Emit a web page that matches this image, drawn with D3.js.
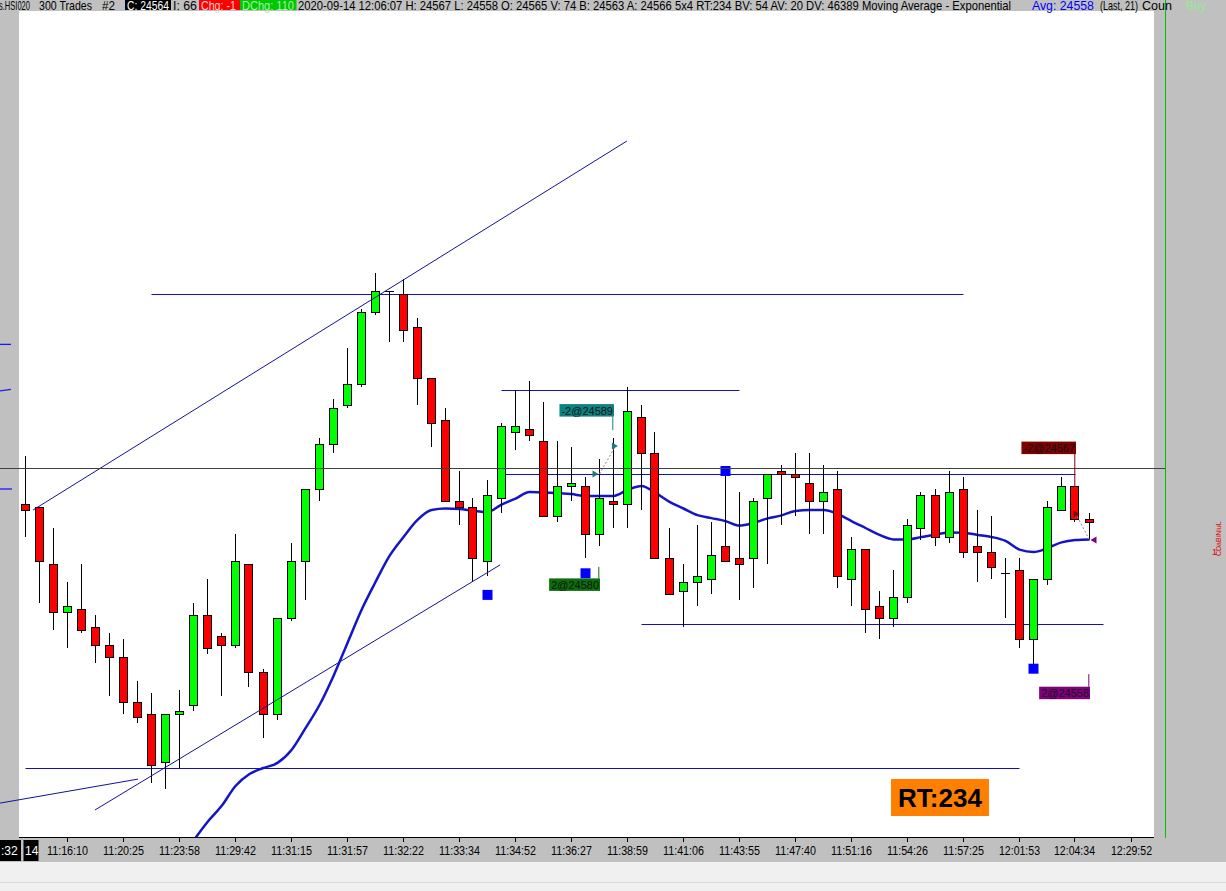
<!DOCTYPE html>
<html><head><meta charset="utf-8">
<script src="https://cdn.jsdelivr.net/npm/d3@7"></script>
<style>html,body{margin:0;padding:0;background:#f0f0f0;overflow:hidden}svg{display:block}</style>
</head><body>
<svg id="c" width="1226" height="891"></svg>
<script>
// ---------- data ----------
const opens  = [24570,24569,24550,24534,24535,24529,24523,24519,24504,24500,24484,24500,24503,24533,24526,24523,24550,24514,24500,24532,24551,24575,24590,24603,24610,24634,24641,24640,24629,24612,24598,24571,24569,24551,24572,24594,24595,24591,24566,24576,24576,24560,24571,24570,24599,24587,24552,24541,24544,24545,24556,24552,24552,24572,24581,24580,24577,24571,24575,24545,24555,24536,24532,24539,24562,24573,24559,24575,24556,24554,24547,24548,24525,24545,24568,24576,24565];
const highs  = [24586,24569,24562,24544,24550,24533,24527,24525,24511,24507,24500,24508,24537,24545,24527,24560,24550,24515,24532,24557,24575,24592,24605,24622,24635,24647,24641,24645,24632,24612,24602,24581,24572,24578,24597,24608,24611,24604,24591,24589,24579,24585,24592,24609,24603,24594,24562,24550,24563,24564,24580,24574,24572,24580,24583,24587,24587,24583,24581,24559,24555,24541,24548,24565,24574,24575,24581,24579,24568,24566,24552,24552,24545,24571,24579,24576,24567];
const lows   = [24559,24537,24528,24522,24527,24517,24506,24500,24497,24477,24475,24482,24501,24520,24506,24522,24509,24492,24498,24531,24538,24571,24587,24602,24609,24633,24624,24624,24603,24589,24571,24563,24544,24546,24567,24588,24591,24566,24564,24571,24552,24556,24562,24562,24568,24552,24540,24529,24536,24540,24551,24538,24542,24550,24563,24566,24560,24560,24542,24536,24527,24525,24529,24537,24558,24556,24557,24552,24544,24545,24532,24522,24516,24543,24568,24564,24558];
const closes = [24568,24551,24534,24536,24528,24523,24519,24504,24499,24483,24500,24501,24533,24522,24523,24551,24514,24500,24532,24551,24575,24590,24602,24610,24634,24641,24641,24628,24612,24597,24571,24569,24552,24573,24596,24596,24593,24566,24576,24577,24560,24572,24570,24601,24587,24552,24540,24544,24546,24553,24551,24550,24571,24580,24580,24579,24571,24574,24546,24555,24535,24532,24539,24563,24573,24559,24574,24554,24554,24549,24547,24525,24545,24569,24576,24565,24564];
// EMA(21) (earlier values are below the visible area)
const emaVals = [null,null,null,null,null,null,null,null,null,null,null,null,
 24457.8,24464.0,24469.3,24476.0,24480.0,24482.0,24483.7,24488.0,24495.3,24503.0,24512.7,24523.7,24534.7,24544.0,24552.7,24559.0,24564.7,24568.0,24568.5,24568.3,24567.7,24567.3,24569.8,24571.8,24574.0,24573.8,24573.7,24573.3,24572.7,24572.7,24572.7,24574.7,24576.0,24573.7,24570.7,24568.5,24566.3,24565.3,24564.3,24562.8,24563.7,24565.2,24566.2,24567.7,24568.0,24568.0,24566.7,24564.3,24562.0,24559.7,24558.2,24558.2,24559.0,24559.8,24560.5,24560.4,24559.7,24559.0,24557.7,24554.8,24554.0,24555.3,24557.2,24558.0,24558.2];
const tickIndex  = [3,7,11,15,19,23,27,31,35,39,43,47,51,55,59,63,67,71,75,79];
const tickLabels = ["11:16:10","11:20:25","11:23:58","11:29:42","11:31:15","11:31:57","11:32:22","11:33:34","11:34:52","11:36:27","11:38:59","11:41:06","11:43:55","11:47:40","11:51:16","11:54:26","11:57:25","12:01:53","12:04:34","12:29:52"];
// horizontal drawing lines: price, from index, to index
const hLinePrice = [24640,24608,24580,24530,24482];
const hLineFrom  = [9,34,34,44,0];
const hLineTo    = [67,51,75,77,71];
// trend lines: [index0, price0, index1, price1]
const trendLines = [[0.54,24568,42.96,24691],[4.96,24468,33.9,24549.7],[-1.82,24470.3,8.04,24478.3]];
const lastPriceLine = 24582;
// signal squares
const sigIndex = [33,40,50,72];
const sigPrice = [24539.7,24546.9,24581,24515.1];
// trade labels
const tradeText  = ["-2@24589","2@24580","-2@24567","2@24558"];
const tradeIndex = [42,41,75,76];
const tradeBoxTop= [24603.3,24545.2,24590.8,24509.1];
const tradeColor = ["#0b8383","#0b6e0b","#800000","#800080"];
// executions: [idxFrom, priceFrom, idxTo, priceTo]
const execLinks = [[41,24580,42.1,24589],[75,24567,76,24558]];
const headerParts = [
 {t:"s.HSI020",x0:-1,x1:30},{t:"300 Trades",x0:39,x1:92},{t:"#2",x0:102,x1:115},
 {t:"C: 24564",x0:127,x1:169,bg:"#000",b0:125,b1:171,fill:"#fff"},
 {t:"I: 66",x0:173,x1:197},
 {t:"Chg: -1",x0:201,x1:236,bg:"#ff0000",b0:199,b1:240,fill:"#ffd0d0"},
 {t:"DChg: 110",x0:242,x1:294,bg:"#00c800",b0:240,b1:296.5,fill:"#a8f0a8"},
 {t:"2020-09-14 12:06:07 H: 24567 L: 24558 O: 24565 V: 74 B: 24563 A: 24566 5x4 RT:234 BV: 54 AV: 20 DV: 46389 Moving Average - Exponential",x0:298,x1:1012},
 {t:"Avg: 24558",x0:1032,x1:1094,fill:"#0000ff"},
 {t:"(Last, 21)",x0:1100,x1:1138},
 {t:"Coun",x0:1142,x1:1172},
 {t:"Buy",x0:1186,x1:1206,fill:"#90ee90"}
];

// ---------- drawing ----------
const svg = d3.select("#c");
const x = d3.scaleLinear().domain([0,76]).range([25.5,1089.5]);
const y = d3.scaleLinear().domain([24458,24558]).range([840,540]);
const PL=19, PR=1154, PT=11, PB=837;

svg.append("rect").attr("width",1226).attr("height",891).attr("fill","#f0f0f0");
svg.append("rect").attr("width",1226).attr("height",862).attr("fill","#c0c0c0");
svg.append("line").attr("x1",0).attr("x2",1226).attr("y1",882.5).attr("y2",882.5).attr("stroke","#dcdcdc");
svg.append("rect").attr("x",PL).attr("y",PT).attr("width",PR-PL).attr("height",PB-PT).attr("fill","#fff");

svg.append("defs").append("clipPath").attr("id","plot").append("rect").attr("x",PL).attr("y",PT).attr("width",PR-PL).attr("height",PB-PT);
const g = svg.append("g").attr("clip-path","url(#plot)");

// horizontal drawing lines
hLinePrice.forEach((p,i)=>{
  g.append("line").attr("x1",x(hLineFrom[i])).attr("x2",x(hLineTo[i]))
   .attr("y1",Math.round(y(p))+0.5).attr("y2",Math.round(y(p))+0.5)
   .attr("stroke","#1010c8").attr("stroke-width",1);
});
// trend lines (not clipped: they run into the margin)
trendLines.forEach(t=>{
  svg.append("line").attr("x1",x(t[0])).attr("y1",y(t[1])).attr("x2",x(t[2])).attr("y2",y(t[3]))
   .attr("stroke","#12129a").attr("stroke-width",1);
});
// margin marks
[[24623.2,24623.2,11],[24607.7,24608.2,11],[24575,24575,12]].forEach(m=>{
  svg.append("line").attr("x1",0).attr("x2",m[2]).attr("y1",y(m[0])).attr("y2",y(m[1]))
   .attr("stroke","#1a1aff").attr("stroke-width",1.3);
});
// last price line
svg.append("line").attr("x1",0).attr("x2",1165).attr("y1",Math.round(y(lastPriceLine))+0.5).attr("y2",Math.round(y(lastPriceLine))+0.5)
  .attr("stroke","#404040").attr("stroke-width",1);

// EMA
const emaLine = d3.line().defined(d=>d!=null).x((d,i)=>x(i)).y(d=>y(d)).curve(d3.curveMonotoneX);
g.append("path").attr("d",emaLine(emaVals)).attr("fill","none").attr("stroke","#1515c8").attr("stroke-width",2.5);

// candles
opens.forEach((o,i)=>{
  const c=closes[i], cx=Math.round(x(i))-0.5;
  g.append("line").attr("x1",cx).attr("x2",cx).attr("y1",y(highs[i])).attr("y2",y(lows[i])).attr("stroke","#000").attr("stroke-width",1);
  if(o===c){
    g.append("line").attr("x1",cx-4.5).attr("x2",cx+4.5).attr("y1",Math.round(y(o))+0.5).attr("y2",Math.round(y(o))+0.5).attr("stroke","#000");
  } else {
    const top=Math.round(y(Math.max(o,c))), bot=Math.round(y(Math.min(o,c)));
    g.append("rect").attr("x",cx-4).attr("y",top+0.5).attr("width",8).attr("height",Math.max(1,bot-top))
     .attr("fill",c>o?"#00ff00":"#ff0000").attr("stroke","#000").attr("stroke-width",1);
  }
});

// signal squares
sigIndex.forEach((si,i)=>{
  g.append("rect").attr("x",x(si)-5).attr("y",y(sigPrice[i])-5).attr("width",10).attr("height",10).attr("fill","#0000ff");
});

// execution links
execLinks.forEach((e,k)=>{
  svg.append("line").attr("x1",x(e[0])).attr("y1",y(e[1])).attr("x2",x(e[2])).attr("y2",y(e[3]))
    .attr("stroke","#8a8a8a").attr("stroke-dasharray","2,2");
});
const tri=(px,py,dir,col)=>{
  const s=dir>0?[[px-6,py-3.5],[px,py],[px-6,py+3.5]]:[[px+6,py-3.5],[px,py],[px+6,py+3.5]];
  svg.append("path").attr("d","M"+s.map(p=>p.join(",")).join("L")+"Z").attr("fill",col);
};
tri(x(41)-1,y(24580),1,"#1e7b7b");
tri(x(42.1)+3,y(24589)-1,1,"#1e7b7b");
tri(x(75)+4,y(24567)+1,1,"#800000");
tri(x(76)+1,y(24558),-1,"#800080");

// trade labels
tradeText.forEach((t,i)=>{
  const right = x(tradeIndex[i])+0.5, top=y(tradeBoxTop[i]);
  const tx = svg.append("text").attr("x",right-1).attr("y",top+10.5).attr("text-anchor","end")
    .attr("font-family","Liberation Sans, Arial, sans-serif").attr("font-size",11).attr("fill","#111").text(t);
  const w = tx.node().getComputedTextLength()+3;
  svg.insert("rect","text").attr("x",right-w).attr("y",top).attr("width",w).attr("height",12.5).attr("fill",tradeColor[i]);
  const cx=right-1.2;
  if(i===0) svg.append("line").attr("x1",cx).attr("x2",cx).attr("y1",top+12.5).attr("y2",top+26).attr("stroke",tradeColor[i]);
  if(i===1) svg.append("line").attr("x1",cx).attr("x2",cx).attr("y1",top-11.5).attr("y2",top).attr("stroke",tradeColor[i]);
  if(i===2) svg.append("line").attr("x1",cx).attr("x2",cx).attr("y1",top+12.5).attr("y2",y(highs[75])).attr("stroke",tradeColor[i]);
  if(i===3) svg.append("line").attr("x1",cx).attr("x2",cx).attr("y1",top-12.5).attr("y2",top).attr("stroke",tradeColor[i]);
});

// RT box
svg.append("rect").attr("x",891).attr("y",779).attr("width",98).attr("height",37).attr("fill","#ff8000");
svg.append("text").attr("x",940).attr("y",807).attr("text-anchor","middle").attr("font-family","Liberation Sans, Arial, sans-serif")
  .attr("font-weight","bold").attr("font-size",26).attr("fill","#000").text("RT:234");

// right border green line
svg.append("line").attr("x1",1165.5).attr("x2",1165.5).attr("y1",0).attr("y2",838).attr("stroke","#00c000");
// right red small text
svg.append("text").attr("transform","translate(1221,556) rotate(-90)").attr("font-family","Liberation Sans, Arial").attr("font-size",7).attr("fill","#e00000").text("CDaBiNiuL");
svg.append("text").attr("x",1212).attr("y",555).attr("font-family","Liberation Sans, Arial").attr("font-size",9).attr("fill","#e00000").text("1");

// x axis
svg.append("line").attr("x1",PL).attr("x2",PR).attr("y1",PB+0.5).attr("y2",PB+0.5).attr("stroke","#000");
const ax = svg.append("g");
tickIndex.forEach((ti,k)=>{
  const tx=Math.round(x(ti))-0.5;
  ax.append("line").attr("x1",tx).attr("x2",tx).attr("y1",PB+1).attr("y2",PB+5).attr("stroke","#000");
  ax.append("text").attr("x",tx).attr("y",855).attr("text-anchor","middle").attr("font-family","Liberation Sans, Arial, sans-serif")
    .attr("font-size",12).attr("textLength",41).attr("lengthAdjust","spacingAndGlyphs").attr("fill","#000").text(tickLabels[k]);
});
svg.append("rect").attr("x",0).attr("y",840).attr("width",21).attr("height",21).attr("fill","#000");
svg.append("rect").attr("x",23.5).attr("y",840).attr("width",15).attr("height",21).attr("fill","#000");
svg.append("text").attr("x",1).attr("y",855).attr("font-family","Liberation Sans, Arial").attr("font-size",12).attr("fill","#fff").text(":32");
svg.append("text").attr("x",25).attr("y",855).attr("font-family","Liberation Sans, Arial").attr("font-size",12).attr("fill","#fff").text("14");

// header (text scaled horizontally to fit the measured spans)
headerParts.forEach(h=>{
  if(h.bg) svg.append("rect").attr("x",h.b0).attr("y",0).attr("width",h.b1-h.b0).attr("height",10).attr("fill",h.bg);
  const t = svg.append("text").attr("x",0).attr("y",0).attr("font-family","Liberation Sans, Arial, sans-serif").attr("font-size",13)
    .attr("fill",h.fill||"#000").text(h.t);
  const w = t.node().getComputedTextLength();
  t.attr("transform",`translate(${h.x0},9.5) scale(${(h.x1-h.x0)/w},1)`);
});
</script>
</body></html>
